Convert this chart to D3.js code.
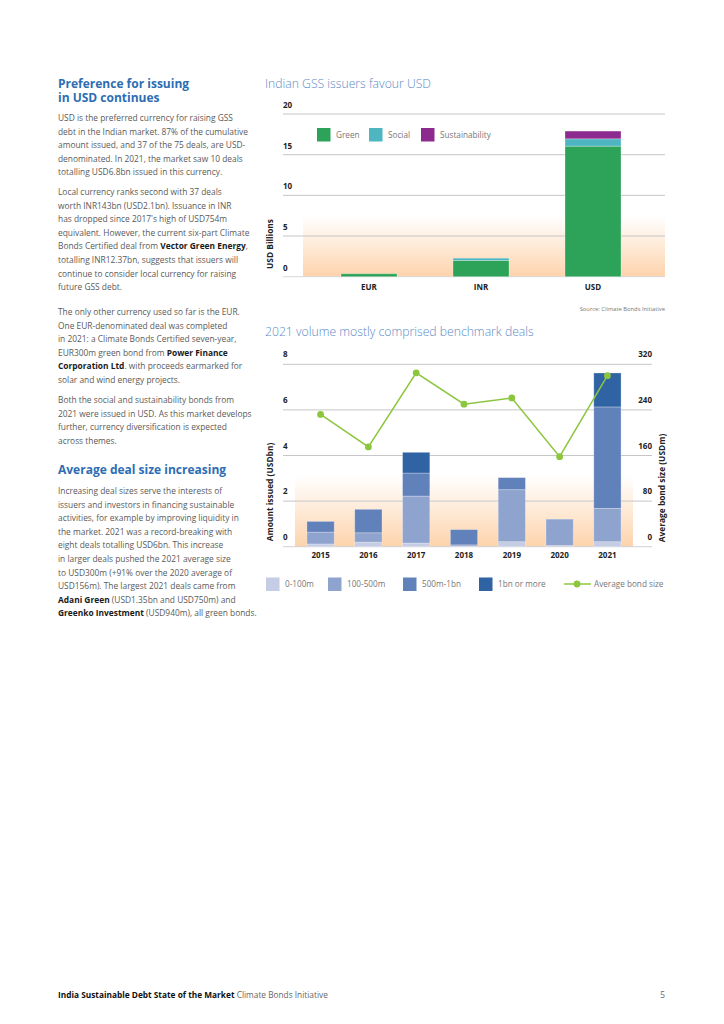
<!DOCTYPE html>
<html>
<head>
<meta charset="utf-8">
<script src="https://cdn.jsdelivr.net/npm/d3@7"></script>
<style>
  body { margin: 0; background: #fff; }
  svg text { font-family: "Open Sans", sans-serif; }
  .body-text { font-size: 8.4px; fill: #5a5a5a; }
  .body-text .b { font-weight: bold; fill: #1a1a1a; }
  .heading { font-size: 12px; font-weight: bold; fill: #2d6db3; }
  .chart-title { font-size: 12.2px; fill: #5b8ac6; font-weight: 300; }
  .tick-label { font-size: 8px; font-weight: bold; fill: #222; }
  .axis-title { font-size: 8.4px; font-weight: bold; fill: #222; }
  .legend-text { font-size: 8.2px; fill: #777; }
</style>
</head>
<body>
<div id="page"></div>
<script>

// Chart 1 data: GSS issuance by currency (USD bn)
const currencies = ["EUR", "INR", "USD"];
const greenVals = [0.36, 2.0, 16.05];
const socialVals = [0, 0.28, 0.9];
const sustVals = [0, 0, 0.95];
const ticks1 = [0, 5, 10, 15, 20];

// Chart 2 data: amount issued by deal size (USD bn) + average bond size (USD m)
const years = ["2015", "2016", "2017", "2018", "2019", "2020", "2021"];
const size0to100 = [0.12, 0.2, 0.16, 0.02, 0.22, 0.05, 0.22];
const size100to500 = [0.52, 0.41, 2.06, 0.06, 2.28, 1.16, 1.46];
const size500to1bn = [0.47, 1.03, 1.01, 0.67, 0.53, 0, 4.45];
const size1bnPlus = [0, 0, 0.91, 0, 0, 0, 1.49];
const avgBondSize = [232, 175, 305, 250, 261, 158, 300];
const ticksLeft = [0, 2, 4, 6, 8];
const ticksRight = [0, 80, 160, 240, 320];

var svg = d3.select("#page").append("svg")
  .attr("width", 724)
  .attr("height", 1024);

svg.append("rect").attr("width", 724).attr("height", 1024).attr("fill", "#fff");

// orange fade used behind both charts
var defs = svg.append("defs");
var grad = defs.append("linearGradient")
  .attr("id", "fade")
  .attr("x1", 0).attr("y1", 0).attr("x2", 0).attr("y2", 1);
grad.append("stop").attr("offset", "0%").attr("stop-color", "#fdd6b2").attr("stop-opacity", 0);
grad.append("stop").attr("offset", "100%").attr("stop-color", "#fdd3ab").attr("stop-opacity", 1);

// ---------- left column text ----------
function writeLines(lines, x, y0, lh){
  lines.forEach(function(parts, i){
    var t = svg.append("text").attr("class", "body-text")
      .attr("x", x).attr("y", y0 + i * lh);
    parts.forEach(function(p){
      var s = t.append("tspan").text(p[0]);
      if(p[1]) s.attr("class", "b");
    });
  });
}

// two-line heading kept in one text element
var h1 = svg.append("text").attr("class", "heading").attr("x", 58).attr("y", 88);
h1.append("tspan").attr("x", 58).attr("y", 88).text("Preference for issuing");
h1.append("tspan").attr("x", 58).attr("y", 102).text("in USD continues");

writeLines([
  [["USD is the preferred currency for raising GSS"]],
  [["debt in the Indian market. 87% of the cumulative"]],
  [["amount issued, and 37 of the 75 deals, are USD-"]],
  [["denominated. In 2021, the market saw 10 deals"]],
  [["totalling USD6.8bn issued in this currency."]]
], 58, 121, 13.6);

writeLines([
  [["Local currency ranks second with 37 deals"]],
  [["worth INR143bn (USD2.1bn). Issuance in INR"]],
  [["has dropped since 2017's high of USD754m"]],
  [["equivalent. However, the current six-part Climate"]],
  [["Bonds Certified deal from "], ["Vector Green Energy", true], [","]],
  [["totalling INR12.37bn, suggests that issuers will"]],
  [["continue to consider local currency for raising"]],
  [["future GSS debt."]]
], 58, 195, 13.6);

writeLines([
  [["The only other currency used so far is the EUR."]],
  [["One EUR-denominated deal was completed"]],
  [["in 2021: a Climate Bonds Certified seven-year,"]],
  [["EUR300m green bond from "], ["Power Finance", true]],
  [["Corporation Ltd", true], [". with proceeds earmarked for"]],
  [["solar and wind energy projects."]]
], 58, 315, 13.6);

writeLines([
  [["Both the social and sustainability bonds from"]],
  [["2021 were issued in USD. As this market develops"]],
  [["further, currency diversification is expected"]],
  [["across themes."]]
], 58, 403, 13.6);

svg.append("text").attr("class", "heading").attr("x", 58).attr("y", 474).text("Average deal size increasing");

writeLines([
  [[" Increasing deal sizes serve the interests of"]],
  [["issuers and investors in financing sustainable"]],
  [["activities, for example by improving liquidity in"]],
  [["the market. 2021 was a record-breaking with"]],
  [["eight deals totalling USD6bn. This increase"]],
  [["in larger deals pushed the 2021 average size"]],
  [["to USD300m (+91% over the 2020 average of"]],
  [["USD156m). The largest 2021 deals came from"]],
  [["Adani Green", true], [" (USD1.35bn and USD750m) and"]],
  [["Greenko Investment", true], [" (USD940m), all green bonds."]]
], 58, 494, 13.6);

// footer
var foot = svg.append("text").attr("x", 58).attr("y", 998).style("font-size", "8.3px");
foot.append("tspan").attr("font-weight", "bold").attr("fill", "#111").text("India Sustainable Debt State of the Market ");
foot.append("tspan").attr("fill", "#666").text(" Climate Bonds Initiative");
svg.append("text").attr("x", 665).attr("y", 998).attr("text-anchor", "end")
  .style("font-size", "8.3px").attr("fill", "#666").text("5");

// ---------- Chart 1: currencies ----------
var c1 = {top: 114, bottom: 276.7, gridLeft: 283, gridRight: 665};

var y1 = d3.scaleLinear().domain([0, 20]).range([c1.bottom, c1.top]);
var x1 = d3.scaleBand().domain(currencies).range([313, 649])
  .paddingInner(0.5).paddingOuter(0.25);
var color1 = d3.scaleOrdinal().domain(["green", "social", "sust"])
  .range(["#2da35a", "#4db6c1", "#8d2a8f"]);

svg.append("text").attr("class", "chart-title").attr("x", 265).attr("y", 88)
  .text("Indian GSS issuers favour USD");

svg.append("rect")
  .attr("x", 303).attr("y", y1(7.5))
  .attr("width", c1.gridRight - 303).attr("height", c1.bottom - y1(7.5))
  .attr("fill", "url(#fade)");

ticks1.forEach(function(t){
  svg.append("line")
    .attr("x1", c1.gridLeft).attr("x2", c1.gridRight)
    .attr("y1", y1(t)).attr("y2", y1(t))
    .attr("stroke", t == 0 ? "#d8d8d8" : "#c6c6c6").attr("stroke-width", 1);
  svg.append("text").attr("class", "tick-label")
    .attr("x", c1.gridLeft).attr("y", y1(t) - 6).text(t);
});

var rows1 = currencies.map(function(c, i){
  return {cur: c, green: greenVals[i], social: socialVals[i], sust: sustVals[i]};
});
var stack1 = d3.stack().keys(["green", "social", "sust"])(rows1);

svg.append("g").selectAll("g").data(stack1).enter().append("g")
  .attr("fill", d => color1(d.key))
  .selectAll("rect").data(d => d).enter().append("rect")
  .attr("x", d => x1(d.data.cur))
  .attr("width", x1.bandwidth())
  .attr("y", d => y1(d[1]))
  .attr("height", d => y1(d[0]) - y1(d[1]))
  .attr("stroke", "#ffffff").attr("stroke-opacity", 0.35).attr("stroke-width", 0.8);

currencies.forEach(function(c){
  svg.append("text").attr("class", "tick-label")
    .attr("x", x1(c) + x1.bandwidth() / 2).attr("y", 290)
    .attr("text-anchor", "middle").text(c);
});

svg.append("text").attr("class", "axis-title")
  .attr("transform", "translate(273,244) rotate(-90)")
  .attr("text-anchor", "middle").text("USD Billions");

var leg1 = [["green", "Green", 317], ["social", "Social", 369], ["sust", "Sustainability", 421]];
leg1.forEach(function(l){
  svg.append("rect").attr("x", l[2]).attr("y", 128).attr("width", 13.5).attr("height", 13.5)
    .attr("fill", color1(l[0]));
  svg.append("text").attr("class", "legend-text")
    .attr("x", l[2] + 19).attr("y", 137.8).text(l[1]);
});

svg.append("text").attr("x", 665).attr("y", 311).attr("text-anchor", "end")
  .style("font-size", "5.8px").attr("fill", "#777").text("Source: Climate Bonds Initiative");

// ---------- Chart 2: deal sizes ----------
var c2 = {top: 364.3, bottom: 546.7, gridLeft: 283, gridRight: 652};

var yL = d3.scaleLinear().domain([0, 8]).range([c2.bottom, c2.top]);
var yR = d3.scaleLinear().domain([0, 320]).range([c2.bottom, c2.top]);
var x2 = d3.scaleBand().domain(years).range([295, 633])
  .paddingInner(0.43).paddingOuter(0.25);
var keys2 = ["s0", "s1", "s2", "s3"];
var color2 = d3.scaleOrdinal().domain(keys2)
  .range(["#c4cce6", "#8fa3cf", "#6181bb", "#2f63a4"]);

svg.append("text").attr("class", "chart-title").attr("x", 265).attr("y", 336)
  .text("2021 volume mostly comprised benchmark deals");

svg.append("rect")
  .attr("x", 295).attr("y", 475)
  .attr("width", 633 - 295).attr("height", c2.bottom - 475)
  .attr("fill", "url(#fade)");

ticksLeft.forEach(function(t, i){
  svg.append("line")
    .attr("x1", c2.gridLeft).attr("x2", c2.gridRight)
    .attr("y1", yL(t)).attr("y2", yL(t))
    .attr("stroke", t == 0 ? "#d0d0d0" : "#c6c6c6").attr("stroke-width", 1);
  svg.append("text").attr("class", "tick-label")
    .attr("x", c2.gridLeft).attr("y", yL(t) - 7).text(t);
  svg.append("text").attr("class", "tick-label")
    .attr("x", c2.gridRight).attr("y", yR(ticksRight[i]) - 7)
    .attr("text-anchor", "end").text(ticksRight[i]);
});

var rows2 = years.map(function(y, i){
  return {year: y, s0: size0to100[i], s1: size100to500[i], s2: size500to1bn[i], s3: size1bnPlus[i]};
});
var stack2 = d3.stack().keys(keys2)(rows2);

svg.append("g").selectAll("g").data(stack2).enter().append("g")
  .attr("fill", d => color2(d.key))
  .selectAll("rect").data(d => d.filter(p => p[1] > p[0])).enter().append("rect")
  .attr("x", d => x2(d.data.year))
  .attr("width", x2.bandwidth())
  .attr("y", d => yL(d[1]))
  .attr("height", d => yL(d[0]) - yL(d[1]))
  .attr("stroke", "#ffffff").attr("stroke-opacity", 0.35).attr("stroke-width", 0.8);

years.forEach(function(y){
  svg.append("text").attr("class", "tick-label")
    .attr("x", x2(y) + x2.bandwidth() / 2).attr("y", 558)
    .attr("text-anchor", "middle").text(y);
});

// average bond size line
var linePts = years.map((y, i) => [x2(y) + x2.bandwidth() / 2, yR(avgBondSize[i])]);
svg.append("path")
  .attr("d", d3.line()(linePts))
  .attr("fill", "none").attr("stroke", "#8cc63f").attr("stroke-width", 1.5);
svg.append("g").selectAll("circle").data(linePts).enter().append("circle")
  .attr("cx", d => d[0]).attr("cy", d => d[1]).attr("r", 3.4)
  .attr("fill", "#8cc63f");

svg.append("text").attr("class", "axis-title")
  .attr("transform", "translate(273,492) rotate(-90)")
  .attr("text-anchor", "middle").text("Amount issued (USDbn)");
svg.append("text").attr("class", "axis-title")
  .attr("transform", "translate(665,488) rotate(-90)")
  .attr("text-anchor", "middle").text("Average bond size (USDm)");

var leg2 = [["s0", "0-100m", 266], ["s1", "100-500m", 328], ["s2", "500m-1bn", 403], ["s3", "1bn or more", 479]];
leg2.forEach(function(l){
  svg.append("rect").attr("x", l[2]).attr("y", 577.5).attr("width", 13.5).attr("height", 13.5)
    .attr("fill", color2(l[0]));
  svg.append("text").attr("class", "legend-text")
    .attr("x", l[2] + 19).attr("y", 587).text(l[1]);
});
svg.append("line").attr("x1", 564).attr("x2", 591).attr("y1", 584).attr("y2", 584)
  .attr("stroke", "#8cc63f").attr("stroke-width", 1.5);
svg.append("circle").attr("cx", 577).attr("cy", 584).attr("r", 3.4).attr("fill", "#8cc63f");
svg.append("text").attr("class", "legend-text").attr("x", 594).attr("y", 587).text("Average bond size");

</script>
</body>
</html>
